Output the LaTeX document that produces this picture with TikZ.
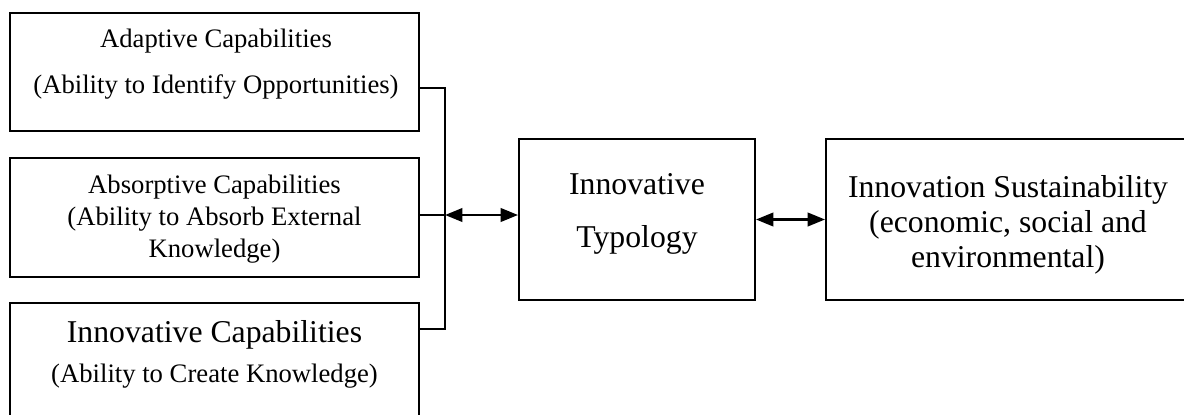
\documentclass[tikz,border=0pt]{standalone}
\usepackage{fontspec}
\setmainfont{Liberation Serif}
\usetikzlibrary{arrows.meta}
\tikzset{every node/.style={font=\fontsize{20}{24}\selectfont},
  capbox/.style={draw,line width=1.4pt,inner sep=0pt,
    minimum width=306.75pt,minimum height=89pt},
  bigbox/.style={draw,line width=1.4pt,inner sep=0pt,minimum height=120.75pt},
  boxtext/.style={align=center,inner sep=0pt},
  link/.style={line width=1.4pt},
  both/.style={line width=2pt,{Triangle[length=13pt,width=10pt]}-{Triangle[length=13pt,width=10pt]}}}

\begin{document}
\begin{tikzpicture}[x=0.75pt,y=-0.75pt]
  \path[use as bounding box] (0,0) rectangle (1184,414);
  % left column: the three capabilities
  \node[capbox] (adapt) at (214.5,72) {};
  \node[capbox] (absorb) at (214.5,217.5) {};
  \node[capbox] (create) at (214.5,362) {};
  \node[boxtext,font=\fontsize{20}{34.5}\selectfont] (adapttext) at (216,64)
    {Adaptive Capabilities\\(Ability to Identify Opportunities)};
  \node[boxtext] (absorbtext) at (214.5,219)
    {Absorptive Capabilities\\(Ability to Absorb External\\Knowledge)};
  \node[boxtext,font=\fontsize{20}{30}\selectfont] (createtext) at (214.5,354)
    {{\fontsize{23.8}{30}\selectfont Innovative Capabilities}\\(Ability to Create Knowledge)};
  % typology and sustainability
  \node[bigbox,minimum width=177pt] (typo) at (637,219.5) {};
  \node[bigbox,minimum width=273pt] (sust) at (1008,219.5) {};
  \node[boxtext,font=\fontsize{23.8}{39.75}\selectfont] (typotext) at (637,214)
    {Innovative\\Typology};
  \node[boxtext,font=\fontsize{23.8}{26.25}\selectfont] (susttext) at (1008,225)
    {Innovation Sustainability\\(economic, social and\\environmental)};
  % bracket joining the left column
  \coordinate (bar) at (445,215);
  \draw[link] ([yshift=-12pt]adapt.east) -| (bar);
  \draw[link] ([yshift=24.75pt]create.east) -| (bar);
  \draw[link] (absorb.east |- bar) -- (bar);
  \draw[both] (bar) -- (bar -| typo.west);
  \draw[both] (typo.east) -- (sust.west);
\end{tikzpicture}
\end{document}
